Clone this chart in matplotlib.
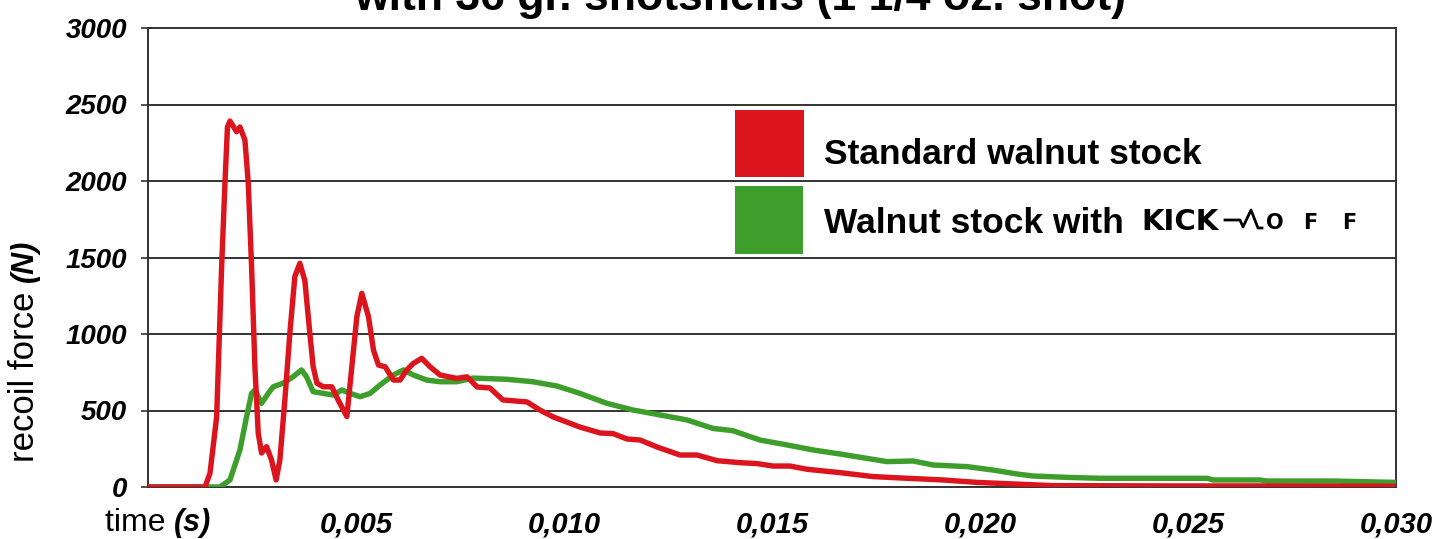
import matplotlib
matplotlib.use("Agg")
import matplotlib.pyplot as plt
from matplotlib.patches import Rectangle
from matplotlib.lines import Line2D

# ---------------- data ----------------
title_text = "with 36 gr. shotshells (1 1/4 oz. shot)"
series_names = ["Standard walnut stock", "Walnut stock with "]

red_t = [0.0, 0.00137, 0.00149, 0.00165, 0.00177, 0.00185, 0.00191, 0.00197, 0.00213,
         0.00221, 0.00233, 0.00241, 0.00249, 0.00257, 0.00265, 0.00273, 0.00285, 0.00297,
         0.00308, 0.00317, 0.00329, 0.00341, 0.00353, 0.00365, 0.00377, 0.00389, 0.00397,
         0.00406, 0.00421, 0.00442, 0.00457, 0.00478, 0.00490, 0.00502, 0.00514, 0.00530,
         0.00542, 0.00554, 0.00570, 0.00590, 0.00606, 0.00622, 0.00638, 0.00658, 0.00678,
         0.00702, 0.00742, 0.00767, 0.00791, 0.00822, 0.00853, 0.00911, 0.00942, 0.00974,
         0.01038, 0.01087, 0.01118, 0.01151, 0.01183, 0.01224, 0.01279, 0.01320, 0.01368,
         0.01423, 0.01464, 0.01502, 0.01543, 0.01584, 0.01663, 0.01743, 0.01825, 0.01911,
         0.01993, 0.02079, 0.02175, 0.02450, 0.02690, 0.03000]
red_f = [0, 0, 90, 457, 1438, 1987, 2353, 2392, 2322,
         2353, 2268, 1987, 1440, 786, 351, 222, 264, 176,
         46, 176, 569, 1005, 1375, 1462, 1350, 1005, 788,
         679, 655, 655, 569, 460, 786, 1113, 1266, 1113,
         895, 797, 786, 699, 699, 765, 808, 841, 786,
         732, 710, 720, 654, 647, 569, 556, 503, 458,
         392, 353, 349, 314, 307, 261, 209, 209, 172,
         159, 153, 137, 137, 116, 94, 68, 57, 46,
         30, 20, 9, 7, 7, 5]

green_t = [0.0, 0.00173, 0.00197, 0.00221, 0.00237, 0.00249, 0.00257, 0.00273, 0.00289,
           0.00301, 0.00325, 0.00349, 0.00369, 0.00381, 0.00397, 0.00421, 0.00445, 0.00466,
           0.00486, 0.00510, 0.00534, 0.00558, 0.00590, 0.00614, 0.00638, 0.00670, 0.00702,
           0.00742, 0.00781, 0.00863, 0.00925, 0.00983, 0.01038, 0.01103, 0.01166, 0.01231,
           0.01296, 0.01358, 0.01406, 0.01471, 0.01536, 0.01599, 0.01663, 0.01728, 0.01776,
           0.01839, 0.01887, 0.01969, 0.02031, 0.02089, 0.02127, 0.02209, 0.02288, 0.02546,
           0.02560, 0.02673, 0.02690, 0.02849, 0.03000]
green_f = [0, 0, 46, 242, 460, 612, 634, 547, 612,
           655, 679, 721, 765, 721, 623, 612, 601, 634,
           612, 590, 612, 667, 732, 765, 732, 699, 688,
           688, 712, 704, 688, 660, 612, 547, 503, 471,
           438, 383, 368, 307, 275, 242, 216, 187, 166,
           170, 144, 133, 111, 85, 72, 63, 57, 57,
           46, 46, 39, 39, 30]

x_ticks = [0.0, 0.005, 0.010, 0.015, 0.020, 0.025, 0.030]
x_labels = ["", "0,005", "0,010", "0,015", "0,020", "0,025", "0,030"]
y_ticks = [0, 500, 1000, 1500, 2000, 2500, 3000]
y_labels = ["0", "500", "1000", "1500", "2000", "2500", "3000"]

# ---------------- styling ----------------
RED = "#DC141E"
GREEN = "#3D9E2C"
W, H = 1432, 539
plt.rcParams["font.family"] = ["Liberation Sans", "DejaVu Sans"]

fig = plt.figure(figsize=(W / 100, H / 100), dpi=100)
fig.patch.set_facecolor("white")

def fx(px):
    return px / W

def fy(py):
    return 1 - py / H

ax = fig.add_axes([fx(148), fy(487), fx(1396) - fx(148), fy(28) - fy(487)])

ax.plot(green_t, green_f, color=GREEN, lw=3.9, solid_joinstyle="round",
        solid_capstyle="butt", zorder=3)
ax.plot(red_t, red_f, color=RED, lw=3.9, solid_joinstyle="round",
        solid_capstyle="butt", zorder=4)

ax.set_xlim(0, 0.030)
ax.set_ylim(0, 3000)
ax.set_yticks(y_ticks)
ax.set_yticklabels(y_labels, fontsize=20, fontweight="bold", fontstyle="italic")
ax.set_xticks(x_ticks)
ax.set_xticklabels(x_labels, fontsize=21, fontweight="bold", fontstyle="italic")
ax.tick_params(axis="y", direction="out", length=5, width=1.2, color="#333333", pad=10)
ax.tick_params(axis="x", length=0, pad=17)
ax.yaxis.grid(True, color="#222222", lw=1.3)
ax.xaxis.grid(False)
ax.set_axisbelow(True)
for s in ax.spines.values():
    s.set_color("#333333")
    s.set_linewidth(1.4)

# title (partially cut at the top, as in the reference)
fig.text(fx(740), fy(10), title_text, ha="center", va="baseline",
         fontsize=32, fontweight="bold")

# axis labels
ylab = fig.text(fx(25), fy(462), "recoil force ", rotation=90, ha="center", va="bottom",
                fontsize=25)
ax.annotate("(N)", xy=(0.5, 1.0), xycoords=ylab, rotation=90, ha="center", va="bottom",
            fontsize=22, fontweight="bold", fontstyle="italic", annotation_clip=False)
xlab = fig.text(fx(105), fy(523), "time ", ha="left", va="center", fontsize=23)
ax.annotate("(s)", xy=(1.0, 0.5), xycoords=xlab, ha="left", va="center", fontsize=22,
            fontweight="bold", fontstyle="italic", annotation_clip=False)

# legend (manual, large colour squares)
fig.patches.append(Rectangle((fx(735), fy(177)), fx(804) - fx(735), fy(110) - fy(177),
                             transform=fig.transFigure, facecolor=RED, edgecolor="none"))
fig.patches.append(Rectangle((fx(735), fy(254)), fx(803) - fx(735), fy(186) - fy(254),
                             transform=fig.transFigure, facecolor=GREEN, edgecolor="none"))
fig.text(fx(824), fy(164), series_names[0], ha="left", va="baseline",
         fontsize=25.5, fontweight="bold")
fig.text(fx(824), fy(233), series_names[1], ha="left", va="baseline",
         fontsize=25.5, fontweight="bold")
# KICK-OFF logo
fig.text(fx(1141), fy(230), "KICK", ha="left", va="baseline", family="DejaVu Sans",
         fontsize=21, fontweight="heavy")
pulse_x = [1225, 1240, 1243, 1251, 1258, 1262]
pulse_y = [220, 220, 227, 210, 228, 228]
fig.lines.append(Line2D([fx(v) for v in pulse_x], [fy(v) for v in pulse_y],
                        transform=fig.transFigure, color="black", lw=2.0))
for letter, cx in zip("OFF", [1275, 1310, 1349]):
    fig.text(fx(cx), fy(229), letter, ha="center", va="baseline", family="DejaVu Sans",
             fontsize=15, fontweight="heavy")

fig.savefig("out.png", dpi=100)
